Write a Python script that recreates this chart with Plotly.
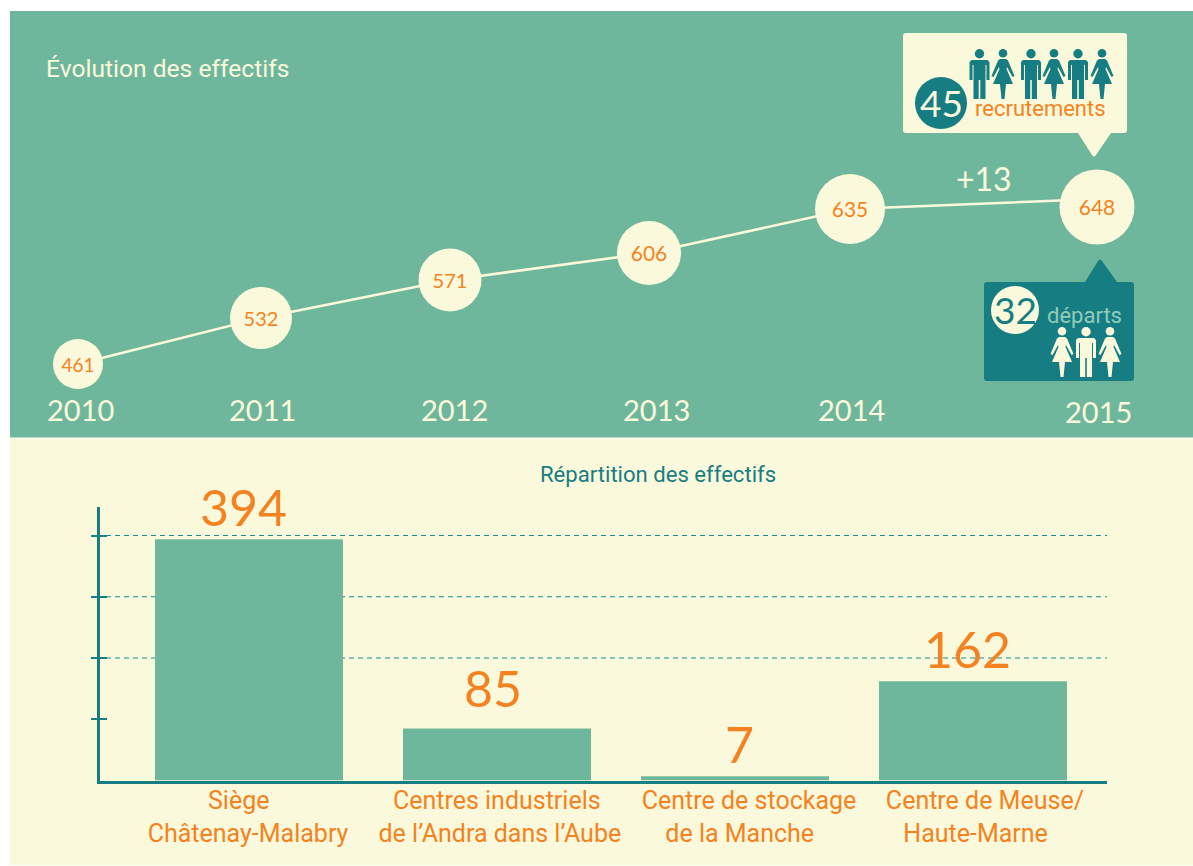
import plotly.graph_objects as go

W, H = 1193, 866
GREEN, CREAM, TEAL, ORANGE, PALE = "#6FB79C", "#FBF9DC", "#167E82", "#F58220", "#93CBBB"
NUM_FONT, TXT_FONT = "Lato", "Roboto"
NB = "\u00a0"

# ---- top chart data
years = ["2010", "2011", "2012", "2013", "2014", "2015"]
headcount = [461, 532, 571, 606, 635, 648]
point_x = [78, 261, 450, 649, 850, 1097]
point_level = [74, 120, 158, 185, 229, 231]
line_level = [74, 120, 158, 185, 229, 239]
point_size = [50, 62, 63, 64, 70, 75]
label_size = [19, 20, 20, 21, 21, 21]
year_x = [80, 262, 454, 656, 851, 1098]
year_level = [29, 29, 29, 29, 29, 27]

# ---- bottom chart data
sites = ["Siège" + NB * 3 + "<br>Châtenay-Malabry",
         "Centres industriels" + NB + "<br>de l’Andra dans l’Aube",
         "Centre de stockage<br>de la Manche" + NB * 3,
         "Centre de Meuse/<br>Haute-Marne" + NB * 3]
staff = [394, 85, 7, 162]
bar_pos = [0, 1.042, 2.042, 3.042]
bar_width = [0.79, 0.79, 0.79, 0.79]
label_pos = [-0.004, 1.054, 2.101, 3.092]
value_pos = [-0.025, 1.025, 2.059, 3.02]
value_shift = [0, 8, 0, 0]
tick_vals = [100, 200, 300, 400]
grid_vals = [200, 300, 400]

X0, X1, Y0, Y1 = 100, 1107, 780.5, 507
PX_UNIT = 238.0
XR = [(X0 - 249) / PX_UNIT, (X1 - 249) / PX_UNIT]
YR = [0, (Y0 - Y1) / 0.6125]

def px(x): return x / W
def py(y): return 1 - y / H
def P(x, y): return f"{px(x):.5f},{py(y):.5f}"

def poly(points):
    return "M" + " L".join(P(x, y) for x, y in points) + " Z"

def shape_path(d, color):
    return dict(type="path", xref="paper", yref="paper", path=d, fillcolor=color,
                line=dict(width=0), layer="above")

def circle(cx, cy, r, color):
    return dict(type="circle", xref="paper", yref="paper", x0=px(cx - r), x1=px(cx + r),
                y0=py(cy + r), y1=py(cy - r), fillcolor=color, line=dict(width=0), layer="above")

def man(cx, top, color):
    body = [(-8, 11), (8, 11), (10, 13), (10, 31), (7, 31), (7, 16), (6, 16), (6, 50),
            (0.8, 50), (0.8, 31), (-0.8, 31), (-0.8, 50), (-6, 50), (-6, 16), (-7, 16),
            (-7, 31), (-10, 31), (-10, 13)]
    return [circle(cx, top + 4.7, 4.7, color),
            shape_path(poly([(cx + a, top + b) for a, b in body]), color)]

def woman(cx, top, color):
    body = [(-3, 10), (3, 10), (5, 11.5), (11.5, 27), (9.5, 28), (4, 18), (3.5, 20), (10, 35),
            (3, 35), (1.5, 50), (-1.5, 50), (-3, 35), (-10, 35), (-3.5, 20), (-4, 18),
            (-9.5, 28), (-11.5, 27), (-5, 11.5)]
    return [circle(cx, top + 4.3, 4.3, color),
            shape_path(poly([(cx + a, top + b) for a, b in body]), color)]

def callout(x0, y0, x1, y1, ptr, color):
    r = 3
    a, tip_x, tip_y, b = ptr
    if tip_y > y1:
        pts = [f"M{P(x0 + r, y0)}", f"L{P(x1 - r, y0)}", f"Q{P(x1, y0)} {P(x1, y0 + r)}",
               f"L{P(x1, y1 - r)}", f"Q{P(x1, y1)} {P(x1 - r, y1)}", f"L{P(b, y1)}",
               f"L{P(tip_x + 2, tip_y - 3)}", f"Q{P(tip_x, tip_y)} {P(tip_x - 2, tip_y - 3)}",
               f"L{P(a, y1)}", f"L{P(x0 + r, y1)}", f"Q{P(x0, y1)} {P(x0, y1 - r)}",
               f"L{P(x0, y0 + r)}", f"Q{P(x0, y0)} {P(x0 + r, y0)}", "Z"]
    else:
        pts = [f"M{P(x0 + r, y0)}", f"L{P(a, y0)}", f"L{P(tip_x - 2, tip_y + 3)}",
               f"Q{P(tip_x, tip_y)} {P(tip_x + 2, tip_y + 3)}", f"L{P(b, y0)}",
               f"L{P(x1 - r, y0)}", f"Q{P(x1, y0)} {P(x1, y0 + r)}",
               f"L{P(x1, y1 - r)}", f"Q{P(x1, y1)} {P(x1 - r, y1)}",
               f"L{P(x0 + r, y1)}", f"Q{P(x0, y1)} {P(x0, y1 - r)}",
               f"L{P(x0, y0 + r)}", f"Q{P(x0, y0)} {P(x0 + r, y0)}", "Z"]
    return shape_path(" ".join(pts), color)

def txt(x, y, s, size, color, font=TXT_FONT, anchor="center"):
    return dict(xref="paper", yref="paper", x=px(x), y=py(y), text=s, showarrow=False,
                xanchor=anchor, yanchor="middle", font=dict(family=font, size=size, color=color))

fig = go.Figure()

fig.add_trace(go.Bar(x=bar_pos, y=staff, width=bar_width, marker=dict(color=GREEN, line=dict(width=0)),
                     xaxis="x", yaxis="y", showlegend=False, hoverinfo="y"))
fig.add_trace(go.Scatter(x=[0] * 4, y=tick_vals, mode="none", xaxis="x", yaxis="y3",
                         showlegend=False, hoverinfo="skip"))
fig.add_trace(go.Scatter(x=point_x, y=line_level, xaxis="x2", yaxis="y2", mode="lines",
                         line=dict(color=CREAM, width=2.6), cliponaxis=False,
                         showlegend=False, hoverinfo="skip"))
fig.add_trace(go.Scatter(x=point_x, y=point_level, xaxis="x2", yaxis="y2", mode="markers",
                         marker=dict(color=CREAM, size=point_size, line=dict(width=0), opacity=1),
                         cliponaxis=False, showlegend=False, hoverinfo="skip"))
fig.add_trace(go.Scatter(x=point_x, y=[v - 3 for v in point_level], xaxis="x2", yaxis="y2", mode="text",
                         text=[str(v) for v in headcount], textposition="middle center",
                         textfont=dict(family=NUM_FONT, size=label_size, color=ORANGE),
                         cliponaxis=False, showlegend=False, hoverinfo="text"))

shapes = [
    dict(type="rect", xref="paper", yref="paper", x0=px(10), x1=1, y0=py(437.5), y1=py(11),
         fillcolor=GREEN, line=dict(width=0), layer="below"),
    dict(type="rect", xref="paper", yref="paper", x0=px(10), x1=1, y0=py(865), y1=py(438.5),
         fillcolor=CREAM, line=dict(width=0), layer="below"),
]
for g in grid_vals:
    shapes.append(dict(type="line", xref="paper", yref="y", x0=px(X0 + 6), x1=px(X1), y0=g, y1=g,
                       line=dict(color="#1A8C91", width=1, dash="5px,4px"), layer="below"))

shapes.append(callout(903, 33, 1127, 133, (1078, 1094, 158, 1111), CREAM))
shapes.append(callout(984, 282, 1134, 381, (1085, 1100, 258, 1117), TEAL))
shapes.append(circle(941, 103, 26, TEAL))
shapes.append(circle(1015, 310, 24, CREAM))
for cx in (979.5, 1031, 1078):
    shapes += man(cx, 49, TEAL)
for cx in (1003, 1054, 1102):
    shapes += woman(cx, 49, TEAL)
for cx in (1062, 1110):
    shapes += woman(cx, 327, CREAM)
shapes += man(1086, 327, CREAM)

annotations = [
    txt(44, 68, "Évolution des effectifs", 24.6, CREAM, anchor="left"),
    txt(984, 178, "+13", 32, CREAM, NUM_FONT),
    txt(941, 102, "45", 37, CREAM, NUM_FONT),
    txt(1040, 109, "recrutements", 22, ORANGE),
    txt(1015, 310, "32", 37, TEAL, NUM_FONT),
    txt(1084, 315, "départs", 22, PALE),
    txt(658, 474, "Répartition des effectifs", 22.1, TEAL),
]
for xp, yl, label in zip(year_x, year_level, years):
    annotations.append(dict(xref="x2", yref="y2", x=xp, y=yl, text=label, showarrow=False,
                            xanchor="center", yanchor="middle",
                            font=dict(family=NUM_FONT, size=29, color=CREAM)))
for xp, v, s in zip(value_pos, staff, value_shift):
    annotations.append(dict(xref="x", yref="y", x=xp, y=v, yshift=s, text=str(v), showarrow=False,
                            xanchor="center", yanchor="bottom",
                            font=dict(family=NUM_FONT, size=50, color=ORANGE)))

fig.update_layout(
    width=W, height=H, autosize=False, margin=dict(l=0, r=0, t=0, b=0),
    paper_bgcolor="white", plot_bgcolor="rgba(0,0,0,0)", showlegend=False,
    shapes=shapes, annotations=annotations,
    xaxis=dict(domain=[px(X0), px(X1)], range=XR, anchor="y", showgrid=False, zeroline=False,
               showline=True, linecolor=TEAL, linewidth=2.5, ticks="", tickvals=label_pos, ticktext=sites,
               tickfont=dict(family=TXT_FONT, size=25, color=ORANGE), tickangle=0, ticklabelstandoff=-4),
    yaxis=dict(domain=[py(Y0), py(Y1)], range=YR, anchor="x", showgrid=False, zeroline=False,
               showline=True, linecolor=TEAL, linewidth=2.5, ticks="outside", ticklen=6, tickwidth=2,
               tickcolor=TEAL, tickvals=tick_vals, showticklabels=False),
    yaxis3=dict(domain=[py(Y0), py(Y1)], range=YR, overlaying="y", anchor="x", side="left", showgrid=False,
                zeroline=False, showline=False, ticks="inside", ticklen=7, tickwidth=2, tickcolor=TEAL,
                tickvals=tick_vals, showticklabels=False),
    xaxis2=dict(domain=[0, 1], range=[0, W], anchor="y2", visible=False),
    yaxis2=dict(domain=[py(438), py(11)], range=[0, 427], anchor="x2", visible=False),
)

fig.write_html("out.html", config={"displayModeBar": False},
               post_script="document.body.style.margin='0';")
